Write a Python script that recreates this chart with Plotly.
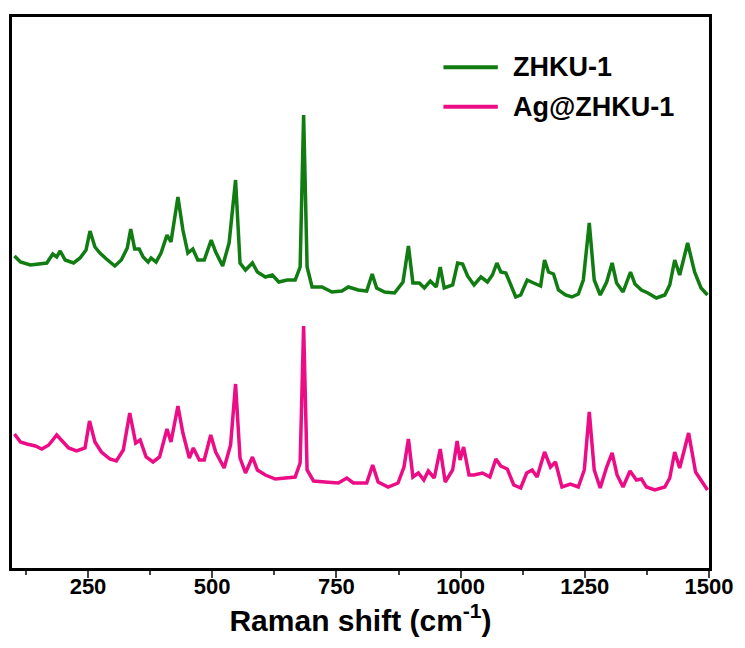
import plotly.graph_objects as go

# Raman shift (cm-1) and intensity (a.u.)
zhku_x = [102, 114, 134, 154, 167, 179, 187, 194, 204, 221, 234, 246, 254, 264, 274, 287, 304, 317, 329, 336,
          344, 353, 361, 371, 377, 387, 397, 409, 417, 431, 441, 451, 461, 471, 484, 498, 507, 521, 534, 547,
          556, 567, 581, 591, 607, 621, 634, 651, 667, 677, 684, 691, 701, 721, 741, 761, 774, 794, 811, 822,
          831, 847, 867, 884, 895, 904, 917, 927, 939, 951, 959, 967, 984, 994, 1004, 1014, 1027, 1041, 1054, 1064,
          1073, 1081, 1091, 1097, 1111, 1121, 1134, 1147, 1161, 1169, 1177, 1187, 1197, 1211, 1224, 1237, 1247, 1259, 1269, 1281,
          1294, 1305, 1314, 1327, 1342, 1351, 1364, 1377, 1394, 1411, 1421, 1431, 1441, 1457, 1471, 1484, 1497]
zhku_y = [312, 306, 303, 304, 305, 314, 311, 317, 308, 305, 310, 318, 337, 321, 315, 309, 302, 308, 320, 339,
          319, 319, 311, 306, 310, 306, 315, 333, 326, 371, 338, 315, 319, 308, 308, 328, 316, 302, 325, 388,
          305, 298, 305, 296, 291, 293, 286, 288, 288, 301, 453, 301, 281, 281, 276, 277, 281, 278, 277, 294,
          280, 276, 275, 286, 322, 285, 285, 280, 287, 281, 301, 280, 283, 305, 304, 292, 283, 291, 286, 293,
          305, 296, 295, 288, 271, 273, 288, 285, 282, 308, 296, 294, 278, 273, 271, 274, 288, 345, 288, 273,
          286, 305, 285, 276, 296, 284, 278, 275, 270, 273, 283, 308, 293, 325, 296, 280, 273]

ag_x = [102, 114, 127, 144, 157, 171, 187, 197, 211, 227, 244, 253, 264, 277, 294, 307, 321, 334, 346, 355,
        367, 381, 394, 409, 417, 431, 441, 454, 462, 474, 484, 497, 507, 524, 537, 547, 556, 567, 581, 591,
        607, 627, 647, 667, 677, 684, 691, 704, 727, 754, 771, 784, 811, 823, 834, 854, 874, 886, 895, 904,
        915, 926, 935, 947, 959, 969, 984, 993, 999, 1006, 1017, 1027, 1044, 1059, 1071, 1081, 1094, 1107, 1121, 1133,
        1144, 1154, 1169, 1181, 1191, 1204, 1221, 1237, 1249, 1259, 1269, 1281, 1294, 1305, 1315, 1327, 1341, 1354, 1364, 1374,
        1391, 1411, 1421, 1431, 1441, 1459, 1473, 1487, 1497]
ag_y = [134, 126, 124, 122, 119, 123, 133, 128, 120, 117, 120, 147, 126, 116, 109, 107, 118, 155, 125, 128,
        111, 106, 111, 139, 126, 162, 135, 110, 120, 108, 108, 133, 116, 100, 123, 184, 110, 95, 111, 98,
        93, 89, 90, 91, 105, 242, 98, 87, 86, 85, 90, 85, 85, 103, 86, 81, 85, 101, 129, 91,
        95, 88, 97, 90, 119, 86, 98, 127, 108, 121, 93, 93, 95, 91, 109, 102, 99, 83, 80, 95,
        98, 91, 116, 101, 106, 81, 84, 81, 98, 156, 98, 80, 101, 115, 93, 81, 97, 88, 89, 81,
        78, 81, 90, 116, 100, 135, 96, 85, 78]

series_names = ["ZHKU-1", "Ag@ZHKU-1"]
series_colors = ["#107c12", "#ec0c86"]
x_tick_vals = [250, 500, 750, 1000, 1250, 1500]

font_family = "Liberation Sans, Arial, sans-serif"

fig = go.Figure()
fig.add_trace(go.Scatter(x=zhku_x, y=zhku_y, mode="lines", name=series_names[0],
                         line=dict(color=series_colors[0], width=3.5)))
fig.add_trace(go.Scatter(x=ag_x, y=ag_y, mode="lines", name=series_names[1],
                         line=dict(color=series_colors[1], width=3.5)))

# legend drawn as sample lines + text (long sample lines as in the reference)
legend_y = [0.909, 0.837]
for name, color, ly in zip(series_names, series_colors, legend_y):
    fig.add_shape(type="line", xref="paper", yref="paper", x0=0.619, x1=0.697, y0=ly, y1=ly,
                  line=dict(color=color, width=4))
    fig.add_annotation(text=name, xref="paper", yref="paper", x=0.716, y=ly,
                       xanchor="left", yanchor="middle", showarrow=False,
                       font=dict(size=27, weight="bold", family=font_family, color="black"))

fig.update_layout(
    width=745, height=648,
    margin=dict(l=12, r=33, t=17, b=80),
    paper_bgcolor="white", plot_bgcolor="white",
    font=dict(family=font_family, color="black"),
    showlegend=False,
    xaxis=dict(range=[97, 1500], tickvals=x_tick_vals, ticks="outside", ticklen=7, tickwidth=2,
               showline=True, linewidth=2.5, linecolor="black", mirror=True,
               showgrid=False, zeroline=False, ticklabelstandoff=-10,
               tickfont=dict(size=22, weight="bold", family=font_family),
               minor=dict(ticks="outside", ticklen=4, tickwidth=2, dtick=125, tick0=0, showgrid=False),
               title=dict(text="Raman shift (cm<sup>-1</sup>)", standoff=0,
                          font=dict(size=30, weight="bold", family=font_family))),
    yaxis=dict(range=[0, 551], showticklabels=False, ticks="", showgrid=False, zeroline=False,
               showline=True, linewidth=2.5, linecolor="black", mirror=True),
)

fig.write_html("out.html")
